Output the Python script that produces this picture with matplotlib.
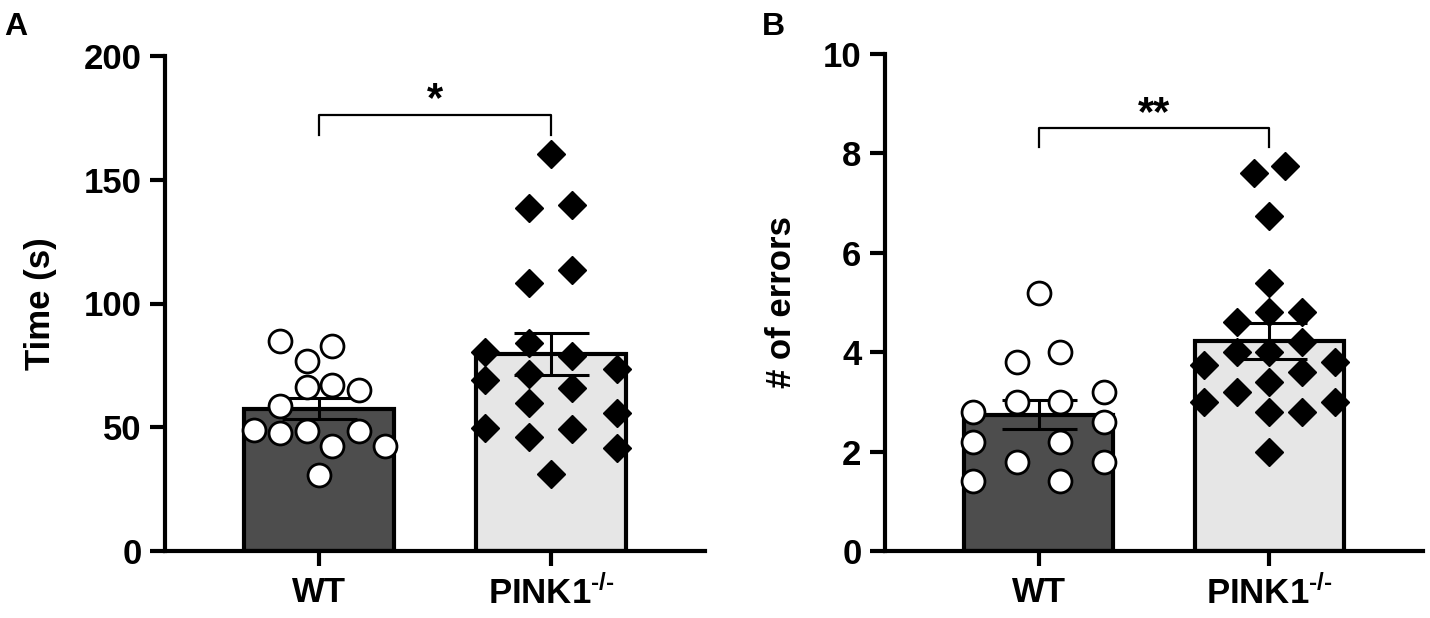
import matplotlib
matplotlib.use('Agg')
import matplotlib.pyplot as plt
import numpy as np

plt.rcParams['font.family'] = ['Liberation Sans', 'DejaVu Sans']
plt.rcParams['font.weight'] = 'bold'
plt.rcParams['mathtext.fontset'] = 'custom'
plt.rcParams['mathtext.bf'] = 'Liberation Sans:bold'
plt.rcParams['mathtext.rm'] = 'Liberation Sans:bold'
plt.rcParams['mathtext.default'] = 'bf'

groups = ['WT', r'PINK1$^{\text{-/-}}$']

# panel A - time (s)
time_wt = [84.7, 82.7, 76.9, 67.2, 66.3, 65.2, 58.4, 49.0, 48.6, 48.6, 47.6, 42.5, 42.5, 30.8]
time_pink = [160.6, 138.5, 139.7, 108.4, 113.5, 84.1, 80.3, 78.9, 68.9, 71.5,
             73.5, 65.9, 59.8, 55.7, 49.7, 49.4, 46.0, 41.6, 31.2]
time_mean = [57.5, 79.5]
time_sem = [4.3, 8.4]

# panel B - number of errors
errors_wt = [5.2, 3.8, 4.0, 3.0, 3.0, 3.2, 2.8, 2.6, 2.2, 2.2, 1.8, 1.8, 1.4, 1.4]
errors_pink = [7.6, 7.75, 6.75, 5.4, 4.6, 4.8, 4.8, 4.2, 4.0, 4.0,
               3.75, 3.8, 3.6, 3.4, 3.2, 3.0, 3.0, 2.8, 2.8, 2.0]
errors_mean = [2.74, 4.23]
errors_sem = [0.29, 0.36]

# horizontal scatter offsets (layout of the dot plot, in category units)
time_wt_dx = [-0.17, 0.056, -0.054, 0.056, -0.054, 0.17, -0.17, -0.28, -0.054, 0.17, -0.17, 0.056, 0.284, 0.0]
time_pink_dx = [0.0, -0.094, 0.093, -0.094, 0.093, -0.094, -0.283, 0.093, -0.283, -0.094,
                0.284, 0.093, -0.094, 0.284, -0.283, 0.093, -0.094, 0.284, 0.0]
errors_wt_dx = [0.0, -0.095, 0.093, -0.095, 0.093, 0.285, -0.283, 0.285, -0.283, 0.093, -0.095, 0.285, -0.283, 0.093]
errors_pink_dx = [-0.069, 0.069, 0.0, 0.0, -0.142, 0.0, 0.14, 0.14, -0.142, 0.0,
                  -0.282, 0.282, 0.14, 0.0, -0.142, -0.282, 0.282, 0.0, 0.14, 0.0]

bar_colors = ['#4d4d4d', '#e6e6e6']


def draw_panel(ax, wt, wt_dx, pink, pink_dx, mean, sem, ymax, step, ylabel, br_y, br_h, stars, star_y):
    x = np.arange(len(groups))
    ax.bar(x, mean, width=0.647, color=bar_colors, edgecolor='black', linewidth=3, zorder=1)
    ax.errorbar(x, mean, yerr=sem, fmt='none', ecolor='black', elinewidth=2.2,
                capsize=27, capthick=2.2, zorder=2)
    ax.plot(x[0] + np.array(wt_dx), wt, 'o', ms=16.5, mfc='white', mec='black', mew=2,
            zorder=3, clip_on=False)
    ax.plot(x[1] + np.array(pink_dx), pink, 'D', ms=14, mfc='black', mec='black',
            zorder=3, clip_on=False)

    ax.set_xlim(-0.665, 1.665)
    ax.set_ylim(0, ymax)
    ax.set_yticks(np.arange(0, ymax + step, step))
    ax.set_xticks(x)
    ax.set_xticklabels(groups)
    for s in ['top', 'right']:
        ax.spines[s].set_visible(False)
    for s in ['left', 'bottom']:
        ax.spines[s].set_linewidth(3)
    ax.tick_params(axis='both', width=3, length=11, labelsize=25, pad=6)
    ax.tick_params(axis='x', pad=7)
    ax.set_ylabel(ylabel, fontsize=25, fontweight='bold')

    # significance bracket
    ax.plot([x[0], x[0], x[1], x[1]], [br_y - br_h, br_y, br_y, br_y - br_h],
            color='black', lw=1.6, clip_on=False)
    ax.text((x[0] + x[1]) / 2, star_y, stars, ha='center', va='center',
            fontsize=30, fontweight='bold')


fig = plt.figure(figsize=(14.3, 6.18), dpi=100)
W, H = 1430, 618
axA = fig.add_axes([165 / W, 1 - 551 / H, 540 / W, 495 / H])
axB = fig.add_axes([885 / W, 1 - 551 / H, 538 / W, 497 / H])

draw_panel(axA, time_wt, time_wt_dx, time_pink, time_pink_dx, time_mean, time_sem,
           200, 50, 'Time (s)', 176, 8, '*', 182)
draw_panel(axB, errors_wt, errors_wt_dx, errors_pink, errors_pink_dx, errors_mean, errors_sem,
           10, 2, '# of errors', 8.52, 0.4, '**', 8.8)

axA.yaxis.set_label_coords(-0.2, 0.5)
axB.yaxis.set_label_coords(-0.162, 0.5)

fig.text(4 / W, 1 - 12 / H, 'A', fontsize=23, fontweight='bold', va='top', ha='left')
fig.text(762 / W, 1 - 12 / H, 'B', fontsize=23, fontweight='bold', va='top', ha='left')

fig.savefig('out.png', dpi=100)
